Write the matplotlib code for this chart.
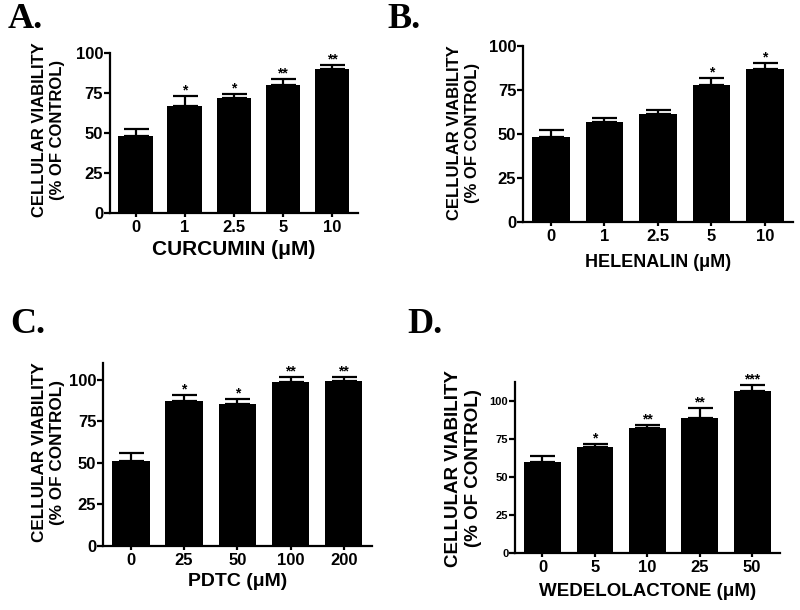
import matplotlib
matplotlib.use("Agg")
import matplotlib.pyplot as plt

plt.rcParams['font.family'] = ['Liberation Sans', 'DejaVu Sans']

# panel A - curcumin
a_labels = ['0', '1', '2.5', '5', '10']
a_vals = [48.3, 66.7, 71.7, 80.0, 89.8]
a_err = [4.4, 6.3, 2.9, 3.7, 2.9]
a_sig = ['', '*', '*', '**', '**']

# panel B - helenalin
b_labels = ['0', '1', '2.5', '5', '10']
b_vals = [48.4, 56.9, 61.3, 77.8, 86.9]
b_err = [3.8, 2.3, 2.5, 4.0, 3.2]
b_sig = ['', '', '', '*', '*']

# panel C - PDTC
c_labels = ['0', '25', '50', '100', '200']
c_vals = [51.0, 87.0, 85.4, 98.4, 99.0]
c_err = [5.0, 3.6, 3.0, 3.0, 2.4]
c_sig = ['', '*', '*', '**', '**']

# panel D - wedelolactone
d_labels = ['0', '5', '10', '25', '50']
d_vals = [60.0, 69.6, 82.2, 88.7, 106.3]
d_err = [3.5, 2.1, 1.5, 6.3, 4.1]
d_sig = ['', '*', '**', '**', '***']

ylab = 'CELLULAR VIABILITY\n(% OF CONTROL)'

fig = plt.figure(figsize=(8, 6.1), dpi=100)

panels = [
    # rect, labels, vals, err, sig, xlabel, xlabel size, ylim, ytick size, ylabel size, ylabel coords, xlabel y, letter, letter pos
    ([0.1375, 0.651, 0.31, 0.262], a_labels, a_vals, a_err, a_sig, 'CURCUMIN (\u03bcM)', 15, 100, 12, 12, (-0.18, 0.52), -0.17, 'A.', (0.009, 0.954)),
    ([0.654, 0.636, 0.3375, 0.2885], b_labels, b_vals, b_err, b_sig, 'HELENALIN (\u03bcM)', 13, 100, 12, 12, (-0.16, 0.506), -0.18, 'B.', (0.484, 0.954)),
    ([0.129, 0.105, 0.336, 0.30], c_labels, c_vals, c_err, c_sig, 'PDTC (\u03bcM)', 14, 110, 12, 12.3, (-0.141, 0.51), -0.148, 'C.', (0.0125, 0.454)),
    ([0.644, 0.0934, 0.331, 0.28], d_labels, d_vals, d_err, d_sig, 'WEDELOLACTONE (\u03bcM)', 13.5, 112, 8, 13.5, (-0.125, 0.497), -0.175, 'D.', (0.509, 0.454)),
]

for rect, labels, vals, err, sig, xlab, xls, ytop, ysize, yls, ylc, xly, letter, lpos in panels:
    ax = fig.add_axes(rect)
    x = list(range(len(vals)))
    ax.bar(x, vals, width=0.7, color='black', zorder=2)
    ax.errorbar(x, vals, yerr=[[0]*len(err), err], fmt='none', ecolor='black',
                elinewidth=1.6, capsize=9, capthick=1.6, zorder=1)
    for xi, v, e, s in zip(x, vals, err, sig):
        if s:
            ax.annotate(s, (xi, v + e), xytext=(0, -1), textcoords='offset points',
                        ha='center', va='bottom', fontsize=10, fontweight='bold')
    ax.set_xlim(-0.52, 4.53)
    ax.set_ylim(0, ytop)
    ax.set_yticks([0, 25, 50, 75, 100])
    ax.set_xticks(x)
    ax.set_xticklabels(labels)
    for sp in ['top', 'right']:
        ax.spines[sp].set_visible(False)
    for sp in ['left', 'bottom']:
        ax.spines[sp].set_linewidth(1.6)
    ax.tick_params(axis='y', direction='out', length=4, width=1.6, labelsize=ysize, pad=1)
    ax.tick_params(axis='x', direction='out', length=3, width=1.6, labelsize=12, pad=2)
    for t in ax.get_xticklabels() + ax.get_yticklabels():
        t.set_fontweight('bold')
    ax.set_ylabel(ylab, fontsize=yls, fontweight='bold', linespacing=1.25)
    ax.yaxis.set_label_coords(*ylc)
    ax.set_xlabel(xlab, fontsize=xls, fontweight='bold')
    ax.xaxis.set_label_coords(0.5, xly)
    fig.text(lpos[0], lpos[1], letter, fontsize=26, fontweight='bold',
             family='Liberation Serif', va='baseline', ha='left')

fig.savefig('out.png', dpi=100, facecolor='white')
